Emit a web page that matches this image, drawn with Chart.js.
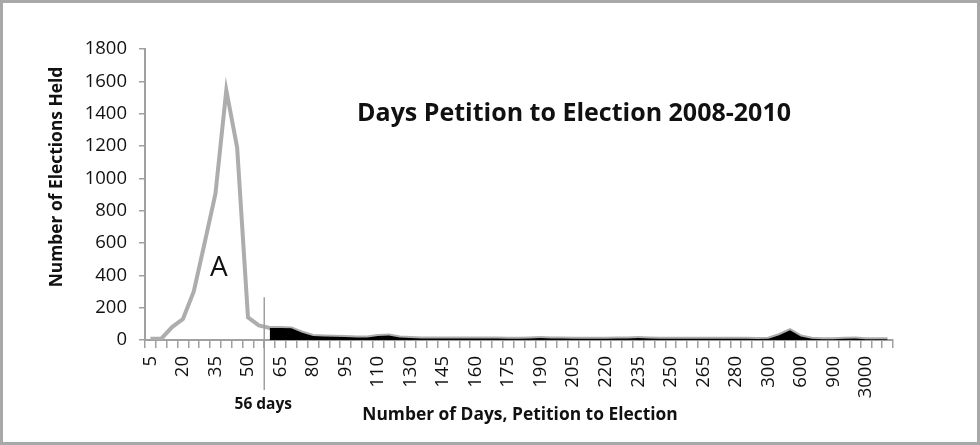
<!DOCTYPE html>
<html>
<head>
<meta charset="utf-8">
<script src="https://cdn.jsdelivr.net/npm/chart.js@4.4.1/dist/chart.umd.min.js"></script>
<style>
  html, body { margin: 0; padding: 0; background: #fff; }
  #wrap { width: 980px; height: 445px; position: relative; }
</style>
</head>
<body>
<div id="wrap"><canvas id="c"></canvas></div>
<script>
// ---- data ----
const categories = [
  '5','10','15','20','25','30','35','40','45','50','55','60','65','70','75','80','85','90','95','100','105','110',
  '120','125',
  '130','135','140','145','150','155','160','165','170','175','180','185','190','195','200','205','210','215','220','225','230','235','240','245','250','255','260','265','270','275','280',
  '285','290',
  '300','400','500','600','700','800','900','1000','2000','3000','4000','5000'
];
const allElections = [
  8, 8, 80, 130, 300, 600, 905, 1545, 1190, 140, 90,
  75, 75, 72, 45, 25, 22, 20, 18, 15, 15, 25, 28, 15,
  12, 10, 10, 10, 9, 9, 10, 10, 9, 8, 8, 10, 12, 10, 9, 8, 8, 8, 8, 9, 10, 12, 10, 8, 8, 8, 8, 8, 7, 7, 7,
  7, 6,
  8, 30, 60, 22, 8, 5, 5, 8, 10, 5, 5, 5
];
const after56Days = [
  null, null, null, null, null, null, null, null, null, null, null,
  75, 75, 72, 45, 25, 22, 20, 18, 15, 15, 25, 28, 15,
  12, 10, 10, 10, 9, 9, 10, 10, 9, 8, 8, 10, 12, 10, 9, 8, 8, 8, 8, 9, 10, 12, 10, 8, 8, 8, 8, 8, 7, 7, 7,
  7, 6,
  8, 30, 60, 22, 8, 5, 5, 8, 10, 5, 5, 5
];
const yTicks = [0, 200, 400, 600, 800, 1000, 1200, 1400, 1600, 1800];
const titleText = 'Days Petition to Election 2008-2010';
const xTitleText = 'Number of Days, Petition to Election';
const yTitleText = 'Number of Elections Held';
const markerText = '56 days';
const markerIndex = 11;      // first category after the 56-day cutoff
const markerTop = 265;       // value where the cutoff line starts
const peakLabel = 'A';
const peakLabelIndex = 6.5;
const peakLabelValue = 445;

const FONT = '"Open Sans", Lato, sans-serif';
const AXIS = '#a0a0a0';

const overlay = {
  id: 'overlay',
  beforeDraw(chart) {
    const ctx = chart.ctx;
    ctx.save();
    ctx.fillStyle = '#fff';
    ctx.fillRect(0, 0, chart.width, chart.height);
    ctx.strokeStyle = '#a8a8a8';
    ctx.lineWidth = 3;
    ctx.strokeRect(1.5, 1.5, chart.width - 3, chart.height - 3);
    ctx.restore();
  },
  afterDraw(chart) {
    const ctx = chart.ctx;
    const x = chart.scales.x, y = chart.scales.y;
    const area = chart.chartArea;
    ctx.save();
    // cutoff line
    const mx = (x.getPixelForValue(markerIndex - 1) + x.getPixelForValue(markerIndex)) / 2;
    ctx.strokeStyle = AXIS;
    ctx.lineWidth = 1.5;
    ctx.beginPath();
    ctx.moveTo(mx, y.getPixelForValue(markerTop));
    ctx.lineTo(mx, area.bottom + 50);
    ctx.stroke();
    ctx.fillStyle = '#111';
    ctx.textAlign = 'center';
    ctx.textBaseline = 'middle';
    ctx.font = 'bold 15.5px ' + FONT;
    ctx.fillText(markerText, mx - 1, area.bottom + 65);
    // title
    ctx.font = 'bold 25px ' + FONT;
    ctx.fillText(titleText, 574, 114);
    // x title
    ctx.font = 'bold 17.4px ' + FONT;
    ctx.fillText(xTitleText, 520, 415);
    // y title
    ctx.save();
    ctx.translate(57, 177);
    ctx.rotate(-Math.PI / 2);
    ctx.fillText(yTitleText, 0, 0);
    ctx.restore();
    // peak label
    const ax = (x.getPixelForValue(Math.floor(peakLabelIndex)) + x.getPixelForValue(Math.ceil(peakLabelIndex))) / 2;
    ctx.font = '28px ' + FONT;
    ctx.fillText(peakLabel, ax - 2, y.getPixelForValue(peakLabelValue));
    ctx.restore();
  }
};

new Chart(document.getElementById('c'), {
  type: 'line',
  data: {
    labels: categories,
    datasets: [
      {
        label: 'After 56 days',
        data: after56Days,
        borderColor: '#000',
        borderWidth: 0,
        backgroundColor: '#000',
        fill: 'origin',
        pointRadius: 0,
        tension: 0,
        order: 1
      },
      {
        label: 'All elections',
        data: allElections,
        borderColor: '#adadad',
        borderWidth: 4,
        fill: false,
        pointRadius: 0,
        tension: 0,
        order: 2
      }
    ]
  },
  options: {
    responsive: true,
    maintainAspectRatio: false,
    animation: false,
    devicePixelRatio: 1,
    layout: { padding: { top: 49, right: 87, left: 10, bottom: 0 } },
    plugins: { legend: { display: false }, tooltip: { enabled: false }, title: { display: false } },
    scales: {
      x: {
        type: 'category',
        offset: true,
        grid: { display: true, drawOnChartArea: false, drawTicks: true, tickLength: 8, color: AXIS, lineWidth: 1.5, offset: true },
        border: { display: true, color: AXIS, width: 2 },
        ticks: {
          autoSkip: false, minRotation: 90, maxRotation: 90, padding: 8,
          color: '#111',
          font: { family: FONT, size: 18.5 },
          callback: function (v, i) { return i % 3 === 0 ? categories[i] : ''; }
        },
        afterFit: function (s) { s.height = 105; }
      },
      y: {
        min: 0, max: 1800,
        afterBuildTicks: function (s) { s.ticks = yTicks.map(v => ({ value: v })); },
        grid: { display: true, drawOnChartArea: false, drawTicks: true, tickLength: 6, color: AXIS, lineWidth: 1.5 },
        border: { display: true, color: AXIS, width: 2 },
        ticks: {
          padding: 12, color: '#111', font: { family: FONT, size: 18.5 },
          callback: function (v) { return String(v); }
        },
        afterFit: function (s) { s.width = 135; }
      }
    }
  },
  plugins: [overlay]
});
</script>
</body>
</html>
